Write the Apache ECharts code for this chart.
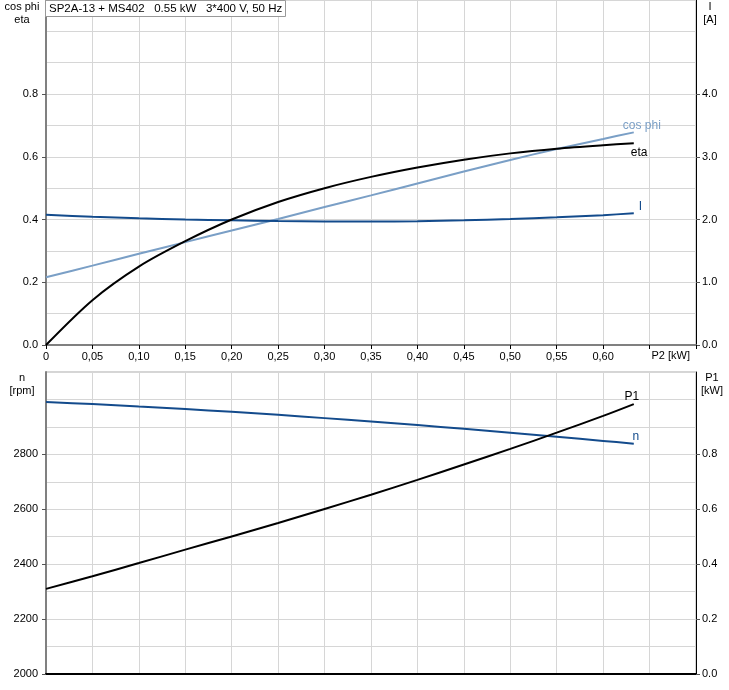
<!DOCTYPE html>
<html>
<head>
<meta charset="utf-8">
<script src="https://cdn.jsdelivr.net/npm/echarts@6/dist/echarts.min.js"></script>
<style>
html,body{margin:0;padding:0;background:#fff;}
#c{width:729px;height:690px;}
</style>
</head>
<body>
<div id="c"></div>
<script>
// P2 [kW] sample points
const p2 = [0, 0.05, 0.10, 0.15, 0.20, 0.25, 0.30, 0.35, 0.40, 0.45, 0.50, 0.55, 0.60, 0.633];
const cosPhi = [0.216, 0.253, 0.291, 0.328, 0.365, 0.402, 0.440, 0.477, 0.515, 0.553, 0.590, 0.625, 0.657, 0.678];
const eta = [0, 0.143, 0.250, 0.331, 0.400, 0.456, 0.500, 0.536, 0.566, 0.591, 0.611, 0.626, 0.637, 0.643];
const current = [2.077, 2.045, 2.020, 2.000, 1.988, 1.977, 1.970, 1.967, 1.973, 1.988, 2.008, 2.035, 2.070, 2.100];
const speed = [2991, 2983, 2974, 2965, 2955, 2944, 2932, 2920, 2907, 2893, 2879, 2864, 2849, 2839];
const p1 = [0.310, 0.356, 0.404, 0.453, 0.501, 0.550, 0.601, 0.653, 0.707, 0.763, 0.820, 0.879, 0.940, 0.983];

const leftTicksTop = [0, 0.2, 0.4, 0.6, 0.8];
const rightTicksTop = [0, 1, 2, 3, 4];
const leftTicksBottom = [2000, 2200, 2400, 2600, 2800];
const rightTicksBottom = [0, 0.2, 0.4, 0.6, 0.8];

const titleText = 'SP2A-13 + MS402   0.55 kW   3*400 V, 50 Hz';

const FONT = 'Liberation Sans, Arial, sans-serif';
const C_LIGHT = '#7a9fc6';
const C_DARK = '#134b8c';
const C_BLACK = '#000000';
const GRIDC = '#d6d6d6';

function pairs(ys) { return p2.map((x, i) => [x, ys[i]]); }
function fmtX(v) {
  if (v === 0) return '0';
  if (v > 0.601) return '';
  return v.toFixed(2).replace('.', ',');
}

const chart = echarts.init(document.getElementById('c'), null, {renderer: 'canvas'});
const lblStyle = {color: '#000', fontSize: 11, fontFamily: FONT};

const option = {
  animation: false,
  backgroundColor: '#fff',
  textStyle: {fontFamily: FONT},
  title: [
    {text: titleText, left: 45, top: 0, padding: [3, 4, 2, 4], borderColor: '#999', borderWidth: 1,
     backgroundColor: '#fff', textStyle: {fontSize: 11.5, fontWeight: 'normal', color: '#000', fontFamily: FONT}, z: 10},
    {text: 'cos phi\neta', left: 22, top: 0, textAlign: 'center', padding: 0,
     textStyle: {fontSize: 11, fontWeight: 'normal', color: '#000', lineHeight: 13, fontFamily: FONT}},
    {text: 'I\n[A]', left: 710, top: 0, textAlign: 'center', padding: 0,
     textStyle: {fontSize: 11, fontWeight: 'normal', color: '#000', lineHeight: 13, fontFamily: FONT}},
    {text: 'n\n[rpm]', left: 22, top: 371, textAlign: 'center', padding: 0,
     textStyle: {fontSize: 11, fontWeight: 'normal', color: '#000', lineHeight: 13, fontFamily: FONT}},
    {text: 'P1\n[kW]', left: 712, top: 371, textAlign: 'center', padding: 0,
     textStyle: {fontSize: 11, fontWeight: 'normal', color: '#000', lineHeight: 13, fontFamily: FONT}}
  ],
  grid: [
    {left: 46, right: 33, top: 0, height: 345, show: true, borderColor: '#aaa', borderWidth: 1, containLabel: false},
    {left: 46, right: 33, top: 372, bottom: 16, show: true, borderColor: '#aaa', borderWidth: 1, containLabel: false}
  ],
  xAxis: [
    {type: 'value', gridIndex: 0, min: 0, max: 0.7, interval: 0.05,
     axisLine: {show: true, onZero: false, lineStyle: {color: '#808080', width: 2}},
     axisTick: {show: true, length: 4, lineStyle: {color: '#000'}},
     axisLabel: {formatter: fmtX, margin: 6, ...lblStyle, showMaxLabel: true},
     splitLine: {show: true, lineStyle: {color: GRIDC, width: 1}},
     name: 'P2 [kW]', nameLocation: 'end', nameGap: -6,
     nameTextStyle: {align: 'right', verticalAlign: 'top', padding: [5, 0, 0, 0], ...lblStyle}},
    {type: 'value', gridIndex: 1, min: 0, max: 0.7, interval: 0.05,
     axisLine: {show: true, onZero: false, lineStyle: {color: '#000', width: 2}},
     axisTick: {show: false}, axisLabel: {show: false},
     splitLine: {show: true, lineStyle: {color: GRIDC, width: 1}}}
  ],
  yAxis: [
    {type: 'value', gridIndex: 0, position: 'left', min: 0, max: 1.1, interval: 0.1,
     axisLine: {show: true, onZero: false, lineStyle: {color: '#808080', width: 2}},
     axisTick: {show: false}, axisLabel: {show: false},
     splitLine: {show: true, lineStyle: {color: GRIDC, width: 1}}},
    {type: 'value', gridIndex: 0, position: 'right', min: 0, max: 5.5,
     axisLine: {show: true, onZero: false, lineStyle: {color: '#000', width: 1}},
     axisTick: {show: true, length: 4, customValues: rightTicksTop, lineStyle: {color: '#555'}},
     axisLabel: {customValues: rightTicksTop, formatter: v => v.toFixed(1), margin: 6, ...lblStyle},
     splitLine: {show: false}},
    {type: 'value', gridIndex: 0, position: 'left', min: 0, max: 1.1,
     axisLine: {show: false},
     axisTick: {show: true, length: 4, customValues: leftTicksTop, lineStyle: {color: '#555'}},
     axisLabel: {customValues: leftTicksTop, formatter: v => v.toFixed(1), margin: 8, ...lblStyle},
     splitLine: {show: false}},
    {type: 'value', gridIndex: 1, position: 'left', min: 2000, max: 3100, interval: 100,
     axisLine: {show: true, onZero: false, lineStyle: {color: '#808080', width: 2}},
     axisTick: {show: false}, axisLabel: {show: false},
     splitLine: {show: true, lineStyle: {color: GRIDC, width: 1}}},
    {type: 'value', gridIndex: 1, position: 'right', min: 0, max: 1.1,
     axisLine: {show: true, onZero: false, lineStyle: {color: '#000', width: 1}},
     axisTick: {show: true, length: 4, customValues: rightTicksBottom, lineStyle: {color: '#555'}},
     axisLabel: {customValues: rightTicksBottom, formatter: v => v.toFixed(1), margin: 6, ...lblStyle},
     splitLine: {show: false}},
    {type: 'value', gridIndex: 1, position: 'left', min: 2000, max: 3100,
     axisLine: {show: false},
     axisTick: {show: true, length: 4, customValues: leftTicksBottom, lineStyle: {color: '#555'}},
     axisLabel: {customValues: leftTicksBottom, formatter: v => String(v), margin: 8, ...lblStyle},
     splitLine: {show: false}}
  ],
  series: [
    {name: 'cos phi', type: 'line', xAxisIndex: 0, yAxisIndex: 0, data: pairs(cosPhi), smooth: 0.3,
     showSymbol: false, lineStyle: {color: C_LIGHT, width: 2}, itemStyle: {color: C_LIGHT}, z: 3,
     endLabel: {show: true, formatter: 'cos phi', color: C_LIGHT, fontSize: 12, fontFamily: FONT,
                align: 'center', verticalAlign: 'bottom', offset: [0, -1]}},
    {name: 'eta', type: 'line', xAxisIndex: 0, yAxisIndex: 0, data: pairs(eta), smooth: 0.3,
     showSymbol: false, lineStyle: {color: C_BLACK, width: 2}, itemStyle: {color: C_BLACK}, z: 4,
     endLabel: {show: true, formatter: 'eta', color: '#000', fontSize: 12, fontFamily: FONT,
                align: 'left', verticalAlign: 'top', offset: [-11, 3]}},
    {name: 'I', type: 'line', xAxisIndex: 0, yAxisIndex: 1, data: pairs(current), smooth: 0.3,
     showSymbol: false, lineStyle: {color: C_DARK, width: 2}, itemStyle: {color: C_DARK}, z: 3,
     endLabel: {show: true, formatter: 'I', color: C_DARK, fontSize: 12, fontFamily: FONT,
                align: 'left', verticalAlign: 'bottom', offset: [-3, -1]}},
    {name: 'P1', type: 'line', xAxisIndex: 1, yAxisIndex: 4, data: pairs(p1), smooth: 0.3,
     showSymbol: false, lineStyle: {color: C_BLACK, width: 2}, itemStyle: {color: C_BLACK}, z: 4,
     endLabel: {show: true, formatter: 'P1', color: '#000', fontSize: 12, fontFamily: FONT,
                align: 'center', verticalAlign: 'bottom', offset: [-10, -1]}},
    {name: 'n', type: 'line', xAxisIndex: 1, yAxisIndex: 3, data: pairs(speed), smooth: 0.3,
     showSymbol: false, lineStyle: {color: C_DARK, width: 2}, itemStyle: {color: C_DARK}, z: 3,
     endLabel: {show: true, formatter: 'n', color: C_DARK, fontSize: 12, fontFamily: FONT,
                align: 'center', verticalAlign: 'bottom', offset: [-6, -1]}}
  ]
};
chart.setOption(option);
</script>
</body>
</html>
